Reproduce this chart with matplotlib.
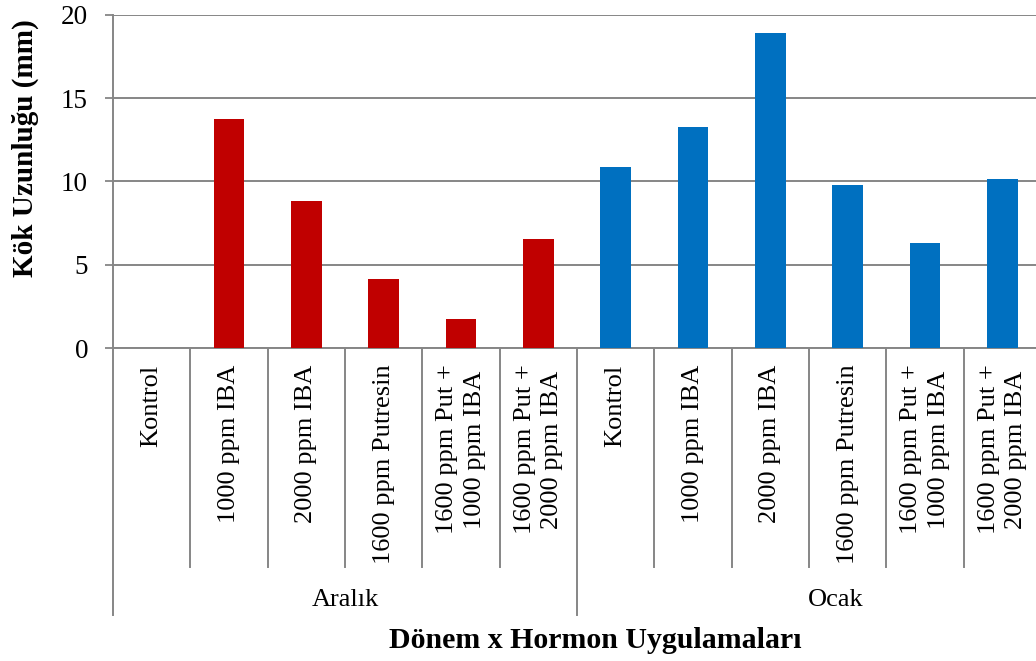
import numpy as np
import matplotlib
matplotlib.use("Agg")
import matplotlib.pyplot as plt
import matplotlib.transforms as mtransforms

plt.rcParams['font.family'] = ['Liberation Serif', 'DejaVu Serif']

# veriler
treatments = ["Kontrol", "1000 ppm IBA", "2000 ppm IBA", "1600 ppm Putresin",
              "1600 ppm Put +\n1000 ppm IBA", "1600 ppm Put +\n2000 ppm IBA"]
periods = ["Aralık", "Ocak"]
aralik = [0, 13.75, 8.82, 4.13, 1.73, 6.53]
ocak = [10.87, 13.27, 18.92, 9.79, 6.31, 10.15]
colors = ["#C00000", "#0070C0"]

W, H = 1036, 661
fig = plt.figure(figsize=(W / 100, H / 100), dpi=100)
# plot area 113..1041 px horizontally, 15..348 px vertically
ax = fig.add_axes([113 / W, (H - 348) / H, (1041 - 113) / W, (348 - 15) / H])

n = len(treatments)
labels = []
for p, vals, c in zip(range(len(periods)), [aralik, ocak], colors):
    x = np.arange(n) + p * n
    ax.bar(x, vals, width=0.4, color=c, zorder=3)
    labels += treatments

ax.set_xlim(-0.5, 2 * n - 0.5)
ax.set_ylim(0, 20)
ax.set_yticks([0, 5, 10, 15, 20])
ax.set_xticks(np.arange(2 * n))
ax.set_xticklabels(labels, rotation=90, va='top', ha='center',
                   multialignment='center', fontsize=19, linespacing=1.3)
ax.tick_params(axis='x', length=0, pad=12)
ax.tick_params(axis='y', length=6, width=1.3, color='#868686', pad=12, labelsize=19.5)

grid_c = '#868686'
ax.grid(axis='y', color=grid_c, linewidth=1.4, zorder=0)
for s in ['top', 'right']:
    ax.spines[s].set_visible(False)
for s in ['left', 'bottom']:
    ax.spines[s].set_color(grid_c)
    ax.spines[s].set_linewidth(1.4)

# kategori ayirici cizgiler
trans = mtransforms.blended_transform_factory(ax.transData, ax.transAxes)
for i in range(2 * n + 1):
    b = i - 0.5
    low = -0.802 if i % n == 0 else -0.658
    ax.plot([b, b], [0, low], color=grid_c, linewidth=1.4, transform=trans,
            clip_on=False)

# donem etiketleri
for p, name in enumerate(periods):
    cx = p * n + (n - 1) / 2
    if p == 1:
        cx += 0.35
    ax.text(cx, -0.758, name, transform=trans, ha='center', va='center',
            fontsize=19)

fig.text(595 / W, 1 - 640 / H, "Dönem x Hormon Uygulamaları", ha='center',
         va='center', fontsize=21.5, fontweight='bold')
fig.text(25 / W, 1 - 148 / H, "Kök Uzunluğu (mm)", ha='center', va='center',
         rotation=90, fontsize=21, fontweight='bold')

fig.savefig("out.png", dpi=100)
